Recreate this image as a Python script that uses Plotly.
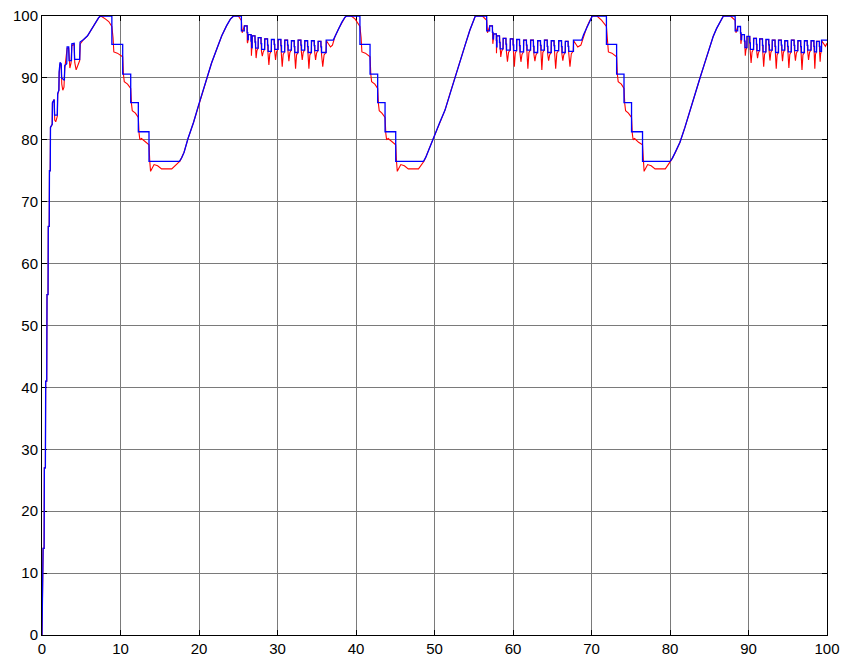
import plotly.graph_objects as go

# ---------------- data ----------------
# initial transient (blue = held signal, red = response)
init_bx = [0, 0.03, 0.12, 0.14, 0.27, 0.30, 0.43, 0.47, 0.60, 0.64, 0.77, 0.80, 0.92, 0.95, 1.05, 1.08, 1.30, 1.33,
           1.55, 1.60, 1.95, 2.00, 2.15, 2.18, 2.30, 2.45, 2.50, 2.85, 2.90, 3.15, 3.20, 3.40, 3.45, 3.75, 3.80, 4.10,
           4.15, 4.80, 4.85, 5.30, 5.80, 6.30, 6.80, 7.20, 7.40, 8.90]
init_by = [0, 4, 4, 14, 14, 27, 27, 41, 41, 55, 55, 66, 66, 75, 75, 82, 82.5, 86,
           86.5, 84, 84, 87.5, 88, 91, 92.5, 92.3, 90, 89.6, 92, 92.3, 95, 95, 92.8, 92.8, 95.5, 95.6,
           93, 93, 95.8, 96.2, 96.8, 97.9, 99.0, 99.7, 100, 100]
init_rx = [0, 0.03, 0.12, 0.14, 0.27, 0.30, 0.43, 0.47, 0.60, 0.64, 0.77, 0.80, 0.92, 0.95, 1.05, 1.08, 1.30, 1.33,
           1.55, 1.62, 1.75, 1.95, 2.00, 2.15, 2.20, 2.30, 2.45, 2.52, 2.65, 2.80, 2.90, 3.20, 3.40, 3.47, 3.55,
           3.70, 3.80, 4.10, 4.17, 4.35, 4.50, 4.80, 4.87, 5.30, 5.80, 6.30, 6.80, 7.20, 7.50, 7.80, 8.10, 8.50, 8.90]
init_ry = [0, 4, 4, 14, 14, 27, 27, 41, 41, 55, 55, 66, 66, 75, 75, 82, 82.5, 86,
           86.5, 83.2, 82.9, 83.8, 87.3, 88, 90.8, 92.3, 92.0, 89.0, 88.0, 88.5, 91.5, 94.8, 94.8, 92.3, 91.6,
           92.4, 95.2, 95.4, 92.5, 91.3, 91.8, 92.8, 95.5, 96.2, 96.8, 97.9, 99.0, 99.7, 100, 99.8, 99.5, 99.1, 98.3]

# staircase descents (blue step times and levels)
step_levels = [95.4, 90.6, 86.0, 81.3, 76.5]
desc1_t = [8.90, 10.28, 11.30, 12.27, 13.63]
desc2_t = [40.50, 41.79, 42.76, 43.70, 45.06]
desc3_t = [71.90, 73.20, 74.14, 75.10, 76.50]
desc_end = [17.5, 48.58, 80.0]

# red response during descents
desc1_rx = [8.90, 9.05, 9.15, 9.60, 10.28, 10.38, 10.48, 10.90, 11.30, 11.40, 11.50, 11.90, 12.27, 12.37, 12.47,
            12.67, 13.17, 13.63, 13.73, 13.83, 14.03, 14.28, 14.73, 15.23, 16.53, 17.60]
desc2_rx = [40.50, 40.65, 40.75, 41.20, 41.79, 41.89, 41.99, 42.40, 42.76, 42.86, 42.96, 43.30, 43.70, 43.80, 43.90,
            44.10, 44.60, 45.06, 45.16, 45.26, 45.46, 45.71, 46.16, 46.66, 47.96, 48.70]
desc3_rx = [71.90, 72.05, 72.15, 72.60, 73.20, 73.30, 73.40, 73.80, 74.14, 74.24, 74.34, 74.70, 75.10, 75.20, 75.30,
            75.50, 76.00, 76.50, 76.60, 76.70, 76.90, 77.15, 77.60, 78.10, 79.40, 80.10]
desc_ry = [98.3, 96.5, 94.2, 94.0, 93.4, 90.5, 89.4, 89.0, 88.3, 85.8, 84.7, 84.3, 83.6, 81.0, 80.0,
           80.2, 79.6, 79.2, 76.5, 74.9, 75.4, 76.0, 75.8, 75.3, 75.3, 76.6]

# smooth rises (both signals together)
rise1_x = [17.5, 17.8, 18.1, 18.6, 19.3, 19.9, 20.5, 21.0, 21.6, 22.3, 22.9, 23.5, 24.0, 24.4, 25.0]
rise1_y = [76.5, 77.1, 78.0, 80.2, 82.8, 85.4, 88.0, 90.0, 92.4, 94.8, 96.8, 98.4, 99.5, 100, 100]
rise2_x = [48.58, 48.9, 49.3, 49.85, 50.6, 51.34, 51.98, 52.6, 53.25, 53.9, 54.5, 54.9, 55.2, 56.1]
rise2_y = [76.5, 77.2, 78.5, 80.2, 82.6, 84.8, 87.5, 89.9, 92.6, 95.3, 97.7, 99.1, 100, 100]
rise3_x = [80.0, 80.3, 80.7, 81.27, 81.9, 82.54, 83.2, 83.8, 84.45, 85.09, 85.5, 85.94, 86.4, 86.8, 87.7]
rise3_y = [76.5, 77.0, 78.0, 79.6, 82.0, 84.8, 87.5, 89.9, 92.5, 95.0, 96.7, 98.0, 99.2, 100, 100]
peak_end = [25.4, 56.65, 88.3]

# oscillation phases: top centres, top levels, bottom levels, red troughs
osc1_c = [25.95, 26.45, 26.95, 27.72, 28.55, 29.40, 30.25, 31.10, 31.95, 32.80, 33.65, 34.50, 35.35]
osc1_t = [98.4, 97.0, 96.8, 96.5, 96.3, 96.2, 96.2, 96.1, 96.0, 96.1, 96.0, 96.0, 95.9]
osc1_b = [96.2, 94.9, 94.8, 94.6, 94.3, 94.6, 94.2, 94.5, 94.1, 94.5, 94.1, 94.4, 94.1]
osc1_r = [95.6, 93.6, 93.2, 93.5, 92.1, 92.9, 91.8, 92.7, 91.5, 92.9, 91.5, 92.9, 91.8]
osc2_c = [57.20, 57.70, 58.10, 58.92, 59.83, 60.65, 61.53, 62.42, 63.32, 64.18, 65.05, 66.00, 66.84]
osc2_t = [98.4, 97.1, 96.8, 96.4, 96.3, 96.2, 96.1, 96.1, 96.0, 96.1, 96.0, 96.0, 95.9]
osc2_b = [96.3, 95.0, 94.7, 94.5, 94.4, 94.2, 94.5, 94.1, 94.5, 94.1, 94.4, 94.1, 94.3]
osc2_r = [95.5, 94.0, 93.4, 92.6, 91.8, 92.6, 91.5, 92.7, 91.3, 92.8, 91.5, 92.8, 91.8]
osc3_c = [88.80, 89.30, 89.98, 90.83, 91.60, 92.40, 93.20, 94.00, 94.80, 95.63, 96.47, 97.30, 98.15, 98.85]
osc3_t = [98.3, 97.0, 96.7, 96.4, 96.3, 96.2, 96.1, 96.1, 96.0, 96.1, 96.0, 96.0, 96.0, 95.9]
osc3_b = [96.2, 94.9, 94.6, 94.4, 94.2, 94.5, 94.1, 94.5, 94.2, 94.4, 94.1, 94.5, 94.2, 94.3]
osc3_r = [95.5, 93.6, 92.4, 93.2, 91.8, 92.8, 91.5, 92.7, 91.6, 92.8, 91.3, 92.9, 91.5, 92.6]
# flat hold after each oscillation phase (start, end, level)
flat_start = [36.2, 67.7, 99.3]
flat_end = [37.1, 68.75, 100.0]
flat_level = 96.1
# climb from the flat hold up to the next peak
climb1_x = [37.4, 37.8, 38.2, 38.6, 38.8, 39.4]
climb2_x = [69.0, 69.4, 69.8, 70.1, 70.7]
climb1_y = [96.9, 98.0, 99.0, 99.8, 100, 100]
climb2_y = [97.0, 98.2, 99.3, 100, 100]

x_ticks = list(range(0, 101, 10))
y_ticks = list(range(0, 101, 10))

# ---------------- build polylines ----------------
HALF = 0.18
bx, by, rx, ry = [], [], [], []


def blue_desc(ts, end):
    for t, lv in zip(ts, step_levels):
        bx.extend([t, t]); by.extend([by[-1], lv])
    bx.append(end); by.append(step_levels[-1])


def blue_osc(cs, tops, bots, first_drop):
    bx.append(bx[-1]); by.append(first_drop)
    for c, t, b in zip(cs, tops, bots):
        mid = (t + b) / 2
        bx.extend([c - HALF, c - HALF, c + HALF, c + HALF, c + HALF + 0.08, c + HALF + 0.08])
        by.extend([by[-1], t, t, mid, mid, b])


def red_osc(cs, tops, bots, troughs, nxt):
    for i, (c, t, b, r) in enumerate(zip(cs, tops, bots, troughs)):
        n = cs[i + 1] - HALF if i + 1 < len(cs) else nxt
        d = n - (c + HALF)
        rx.extend([c - HALF + 0.03, c + HALF, c + HALF + 0.12 * d, c + HALF + 0.35 * d,
                   c + HALF + 0.6 * d, c + HALF + 0.95 * d])
        ry.extend([t, t, b - 0.3, r, b - 0.4, b])


# blue
bx.extend(init_bx); by.extend(init_by)
blue_desc(desc1_t, desc_end[0])
bx.extend(rise1_x); by.extend(rise1_y)
bx.append(peak_end[0]); by.append(100)
blue_osc(osc1_c, osc1_t, osc1_b, 97.6)
bx.extend([flat_start[0], flat_start[0], flat_end[0]]); by.extend([by[-1], flat_level, flat_level])
bx.extend(climb1_x); by.extend(climb1_y)
bx.append(desc2_t[0]); by.append(100)
blue_desc(desc2_t, desc_end[1])
bx.extend(rise2_x); by.extend(rise2_y)
bx.append(peak_end[1]); by.append(100)
blue_osc(osc2_c, osc2_t, osc2_b, 97.6)
bx.extend([flat_start[1], flat_start[1], flat_end[1]]); by.extend([by[-1], flat_level, flat_level])
bx.extend(climb2_x); by.extend(climb2_y)
bx.append(desc3_t[0]); by.append(100)
blue_desc(desc3_t, desc_end[2])
bx.extend(rise3_x); by.extend(rise3_y)
bx.append(peak_end[2]); by.append(100)
blue_osc(osc3_c, osc3_t, osc3_b, 97.6)
bx.extend([flat_start[2], flat_start[2], flat_end[2]]); by.extend([by[-1], flat_level, flat_level])

# red
rx.extend(init_rx); ry.extend(init_ry)
rx.extend(desc1_rx); ry.extend(desc_ry)
rx.extend(rise1_x[2:]); ry.extend(rise1_y[2:])
rx.extend([peak_end[0], peak_end[0] + 0.1]); ry.extend([99.3, 97.3])
red_osc(osc1_c, osc1_t, osc1_b, osc1_r, flat_start[0])
rx.extend([flat_start[0] + 0.03, flat_start[0] + 0.3, flat_start[0] + 0.55, flat_end[0] - 0.1, flat_end[0] + 0.2])
ry.extend([96.0, 95.4, 95.0, 95.3, 96.6])
rx.extend(climb1_x[1:]); ry.extend(climb1_y[1:])
rx.extend([39.9]); ry.extend([99.5])
rx.extend(desc2_rx); ry.extend(desc_ry)
rx.extend(rise2_x[2:]); ry.extend(rise2_y[2:])
rx.extend([peak_end[1], peak_end[1] + 0.1]); ry.extend([99.3, 97.3])
red_osc(osc2_c, osc2_t, osc2_b, osc2_r, flat_start[1])
rx.extend([flat_start[1] + 0.03, flat_start[1] + 0.3, flat_start[1] + 0.55, flat_end[1] - 0.1, flat_end[1] + 0.2])
ry.extend([96.0, 95.4, 95.0, 95.3, 96.6])
rx.extend(climb2_x[1:]); ry.extend(climb2_y[1:])
rx.extend([71.3]); ry.extend([99.3])
rx.extend(desc3_rx); ry.extend(desc_ry)
rx.extend(rise3_x[2:]); ry.extend(rise3_y[2:])
rx.extend([peak_end[2], peak_end[2] + 0.1]); ry.extend([99.3, 97.3])
red_osc(osc3_c, osc3_t, osc3_b, osc3_r, flat_start[2])
rx.extend([flat_start[2] + 0.03, flat_start[2] + 0.3, flat_start[2] + 0.5, flat_end[2]])
ry.extend([96.0, 95.4, 95.1, 95.6])

# ---------------- figure ----------------
fig = go.Figure()
fig.add_trace(go.Scatter(x=rx, y=ry, mode="lines", line=dict(color="#ff0000", width=1.1), showlegend=False))
fig.add_trace(go.Scatter(x=bx, y=by, mode="lines", line=dict(color="#0000ff", width=1.3), showlegend=False))

axis_common = dict(
    showgrid=True, gridcolor="#7a7a7a", gridwidth=1,
    showline=True, linecolor="black", linewidth=1, mirror="allticks",
    ticks="inside", ticklen=5, tickcolor="black", tickwidth=1,
    zeroline=False, layer="below traces", automargin=False,
    tickfont=dict(family="Liberation Sans, Arial, sans-serif", size=15, color="black"),
)
fig.update_xaxes(range=[0, 100], tickvals=x_ticks, ticktext=[str(v) for v in x_ticks], **axis_common)
fig.update_yaxes(range=[0, 100], tickvals=y_ticks, ticktext=[str(v) for v in y_ticks], **axis_common)
fig.update_layout(
    width=844, height=661, autosize=False,
    margin=dict(l=42, r=17, t=16, b=26, pad=0),
    paper_bgcolor="white", plot_bgcolor="white",
)
fig.write_html("out.html")
